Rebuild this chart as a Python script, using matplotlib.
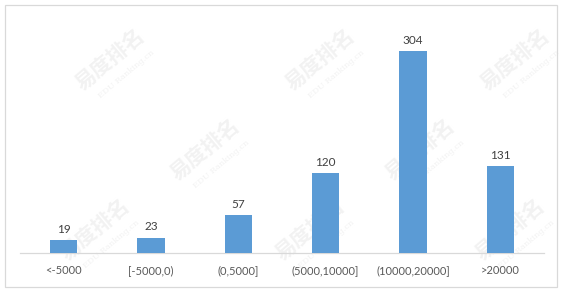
import matplotlib
matplotlib.use('Agg')
from matplotlib import pyplot as plt
from matplotlib.patches import Rectangle
import numpy as np

categories = ['<-5000', '[-5000,0)', '(0,5000]', '(5000,10000]', '(10000,20000]', '>20000']
counts = [19, 23, 57, 120, 304, 131]

W, H = 563, 290
fig = plt.figure(figsize=(W / 100, H / 100), dpi=100)
fig.patch.set_facecolor('white')

# outer chart border
fig.add_artist(Rectangle((5 / W, 3 / H), 552 / W, 282 / H, transform=fig.transFigure,
                         fill=False, edgecolor='#d9d9d9', linewidth=0.9))

# faint watermark tiles, kept behind the chart
wm_pos = [(110, 60), (320, 60), (515, 60), (205, 150), (420, 150),
          (95, 230), (310, 230), (510, 230)]
for x, y in wm_pos:
    fig.text(x / W, 1 - y / H, '易度排名', family=['Noto Sans CJK SC', 'DejaVu Sans'],
             fontsize=15, fontweight='bold', color='#f2f2f2', rotation=40,
             ha='center', va='center', zorder=-2)
    fig.text((x + 16) / W, 1 - (y + 14) / H, 'EDU Ranking.cn', family='DejaVu Serif',
             fontsize=6, color='#f2f2f2', rotation=40, ha='center', va='center', zorder=-2)

ax = fig.add_axes([20 / W, 37 / H, 524 / W, 232 / H])
ax.patch.set_alpha(0)
x = np.arange(len(categories))
bars = ax.bar(x, counts, width=0.31, color='#5b9bd5', zorder=3)
ax.set_xlim(-0.5, len(categories) - 0.5)
ax.set_ylim(0, 350)

for xi, v in zip(x, counts):
    ax.text(xi, v + 8, str(v), ha='center', va='bottom', fontsize=8.5,
            family='Lato', color='#404040')

for s in ['top', 'right', 'left']:
    ax.spines[s].set_visible(False)
ax.spines['bottom'].set_color('#d9d9d9')
ax.spines['bottom'].set_linewidth(0.9)
ax.set_yticks([])
ax.set_xticks(x)
ax.set_xticklabels(categories, fontsize=8, family='Lato', color='#595959')
ax.tick_params(axis='x', length=0, pad=9)

fig.savefig('out.png', dpi=100)
